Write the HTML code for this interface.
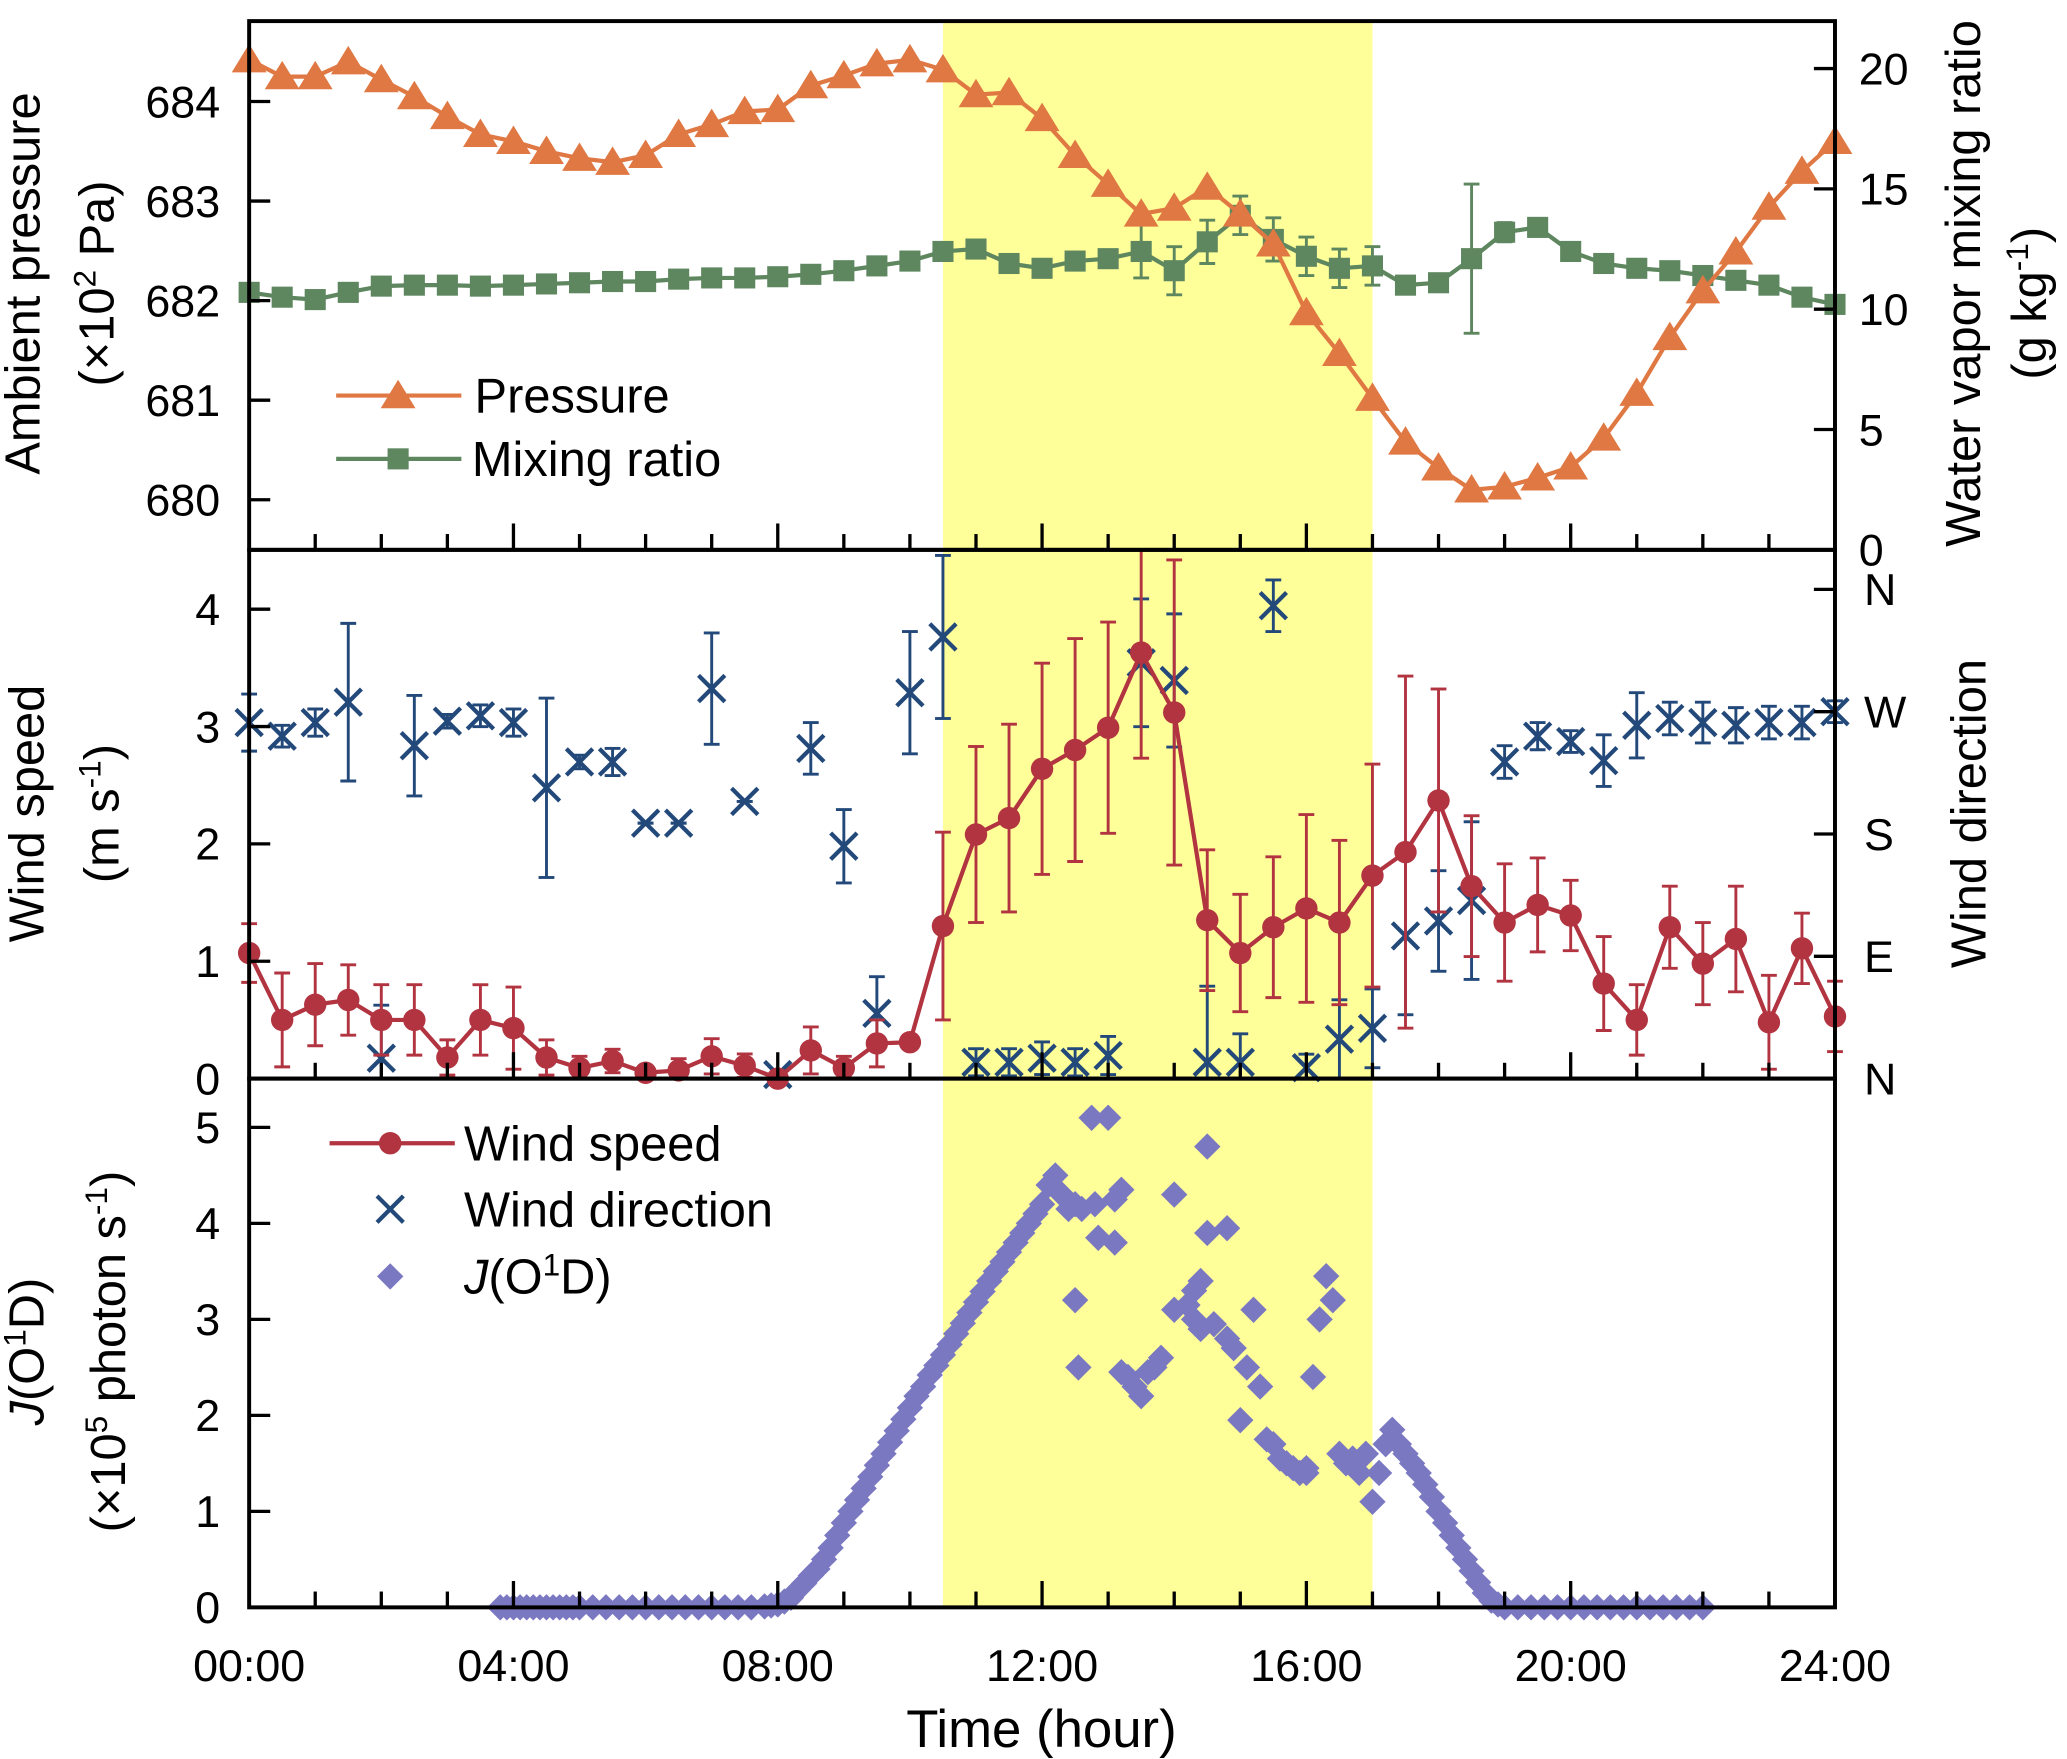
<!DOCTYPE html>
<html><head><meta charset="utf-8"><style>
html,body{margin:0;padding:0;background:#fff;}
svg{display:block;font-family:"Liberation Sans",Arial,sans-serif;}
</style></head><body>
<svg id="chart" xmlns="http://www.w3.org/2000/svg" width="2067" height="1759" viewBox="0 0 1568 1334" preserveAspectRatio="none">
<g id="band"></g>
<g id="series"></g>
<g id="axes"></g>
<g id="labels">
<text transform="translate(30,215) rotate(-90)" text-anchor="middle" font-size="37">Ambient pressure</text>
<text transform="translate(86,215) rotate(-90)" text-anchor="middle" font-size="37">(×10<tspan baseline-shift="super" font-size="24">2</tspan> Pa)</text>
<text transform="translate(1502,215) rotate(-90)" text-anchor="middle" font-size="37">Water vapor mixing ratio</text>
<text transform="translate(1552,230) rotate(-90)" text-anchor="middle" font-size="37">(g kg<tspan baseline-shift="super" font-size="24">-1</tspan>)</text>
<text transform="translate(33,617) rotate(-90)" text-anchor="middle" font-size="37">Wind speed</text>
<text transform="translate(90,617) rotate(-90)" text-anchor="middle" font-size="37">(m s<tspan baseline-shift="super" font-size="24">-1</tspan>)</text>
<text transform="translate(1506,617) rotate(-90)" text-anchor="middle" font-size="37">Wind direction</text>
<text transform="translate(33,1025) rotate(-90)" text-anchor="middle" font-size="37"><tspan font-style="italic">J</tspan>(O<tspan baseline-shift="super" font-size="24">1</tspan>D)</text>
<text transform="translate(95,1025) rotate(-90)" text-anchor="middle" font-size="37">(×10<tspan baseline-shift="super" font-size="24">5</tspan> photon s<tspan baseline-shift="super" font-size="24">-1</tspan>)</text>
<text x="790" y="1325" text-anchor="middle" font-size="40">Time (hour)</text>
</g>
<g id="legend"></g>
</svg>
<script>
const hours = [0,0.5,1,1.5,2,2.5,3,3.5,4,4.5,5,5.5,6,6.5,7,7.5,8,8.5,9,9.5,10,10.5,11,11.5,12,12.5,13,13.5,14,14.5,15,15.5,16,16.5,17,17.5,18,18.5,19,19.5,20,20.5,21,21.5,22,22.5,23,23.5,24];
const pressure = [684.42,684.25,684.25,684.4,684.22,684.05,683.85,683.67,683.6,683.5,683.43,683.39,683.46,683.67,683.77,683.9,683.92,684.16,684.26,684.38,684.42,684.32,684.07,684.09,683.83,683.46,683.17,682.87,682.93,683.14,682.87,682.57,681.88,681.47,681.02,680.58,680.32,680.1,680.13,680.22,680.33,680.62,681.07,681.63,682.1,682.49,682.94,683.3,683.6];
const mixing = [10.7,10.5,10.4,10.7,10.96,11.0,11.0,10.96,11.0,11.05,11.1,11.15,11.15,11.25,11.3,11.3,11.35,11.45,11.6,11.8,12.0,12.4,12.5,11.9,11.7,12.0,12.1,12.4,11.6,12.8,13.9,12.9,12.2,11.7,11.8,11.0,11.1,12.1,13.2,13.4,12.4,11.9,11.7,11.6,11.4,11.2,11.0,10.5,10.2];
const mixingErr = [0.3,0.3,0.3,0.3,0.3,0.3,0.3,0.3,0.3,0.3,0.3,0.3,0.3,0.3,0.3,0.3,0.3,0.3,0.3,0.3,0.3,0.3,0.3,0.3,0.3,0.3,0.3,1.1,1.0,0.9,0.8,0.9,0.8,0.8,0.8,0.3,0.3,3.1,0.4,0.3,0.3,0.3,0.3,0.3,0.3,0.3,0.3,0.3,0.3];
const windSpeed = [1.07,0.5,0.63,0.67,0.5,0.5,0.18,0.5,0.43,0.18,0.09,0.15,0.05,0.07,0.19,0.11,0,0.24,0.09,0.3,0.31,1.3,2.08,2.22,2.64,2.8,2.99,3.63,3.12,1.35,1.07,1.29,1.45,1.33,1.73,1.93,2.37,1.64,1.33,1.48,1.39,0.81,0.5,1.29,0.98,1.19,0.48,1.11,0.53];
const windSpeedErr = [0.25,0.4,0.35,0.3,0.3,0.3,0.15,0.3,0.35,0.15,0.1,0.1,0.05,0.1,0.15,0.1,0.05,0.2,0.1,0.2,0.05,0.8,0.75,0.8,0.9,0.95,0.9,0.9,1.3,0.6,0.5,0.6,0.8,0.7,0.95,1.5,0.95,0.6,0.5,0.4,0.3,0.4,0.3,0.35,0.35,0.45,0.4,0.3,0.3];
const windDir = [262,252,262,277,15,245,263,267,262,214,233,233,188,188,287,204,3,243,171,48,284,325,12,12,15,12,17,306,293,12,12,348,8,29,37,105,116,131,233,252,248,234,260,265,262,260,262,262,270];
const windDirErr = [21,8,10,58,39,37,5,8,10,66,5,10,0,0,41,0,0,19,27,27,45,60,10,10,12,10,14,47,49,56,21,19,10,29,29,58,37,58,12,10,8,19,24,12,15,13,12,12,8];
const jTime = [3.8,3.9,4.0,4.1,4.2,4.3,4.4,4.5,4.6,4.7,4.8,4.9,5.0,5.2,5.4,5.6,5.8,6.0,6.2,6.4,6.6,6.8,7.0,7.2,7.4,7.6,7.8,7.9,8.0,8.1,8.2,8.3,8.4,8.5,8.6,8.7,8.8,8.9,9.0,9.1,9.2,9.3,9.4,9.5,9.6,9.7,9.8,9.9,10.0,10.1,10.2,10.3,10.4,10.5,10.6,10.7,10.8,10.9,11.0,11.1,11.2,11.3,11.4,11.5,11.6,11.7,11.8,11.9,12.0,12.1,12.2,12.3,12.4,12.5,12.6,12.75,12.8,13.0,13.1,13.2,12.85,13.1,12.5,12.55,13.2,13.3,13.4,13.5,13.6,13.7,13.8,14.0,14.0,14.2,14.3,14.4,14.5,14.5,14.8,14.3,14.4,14.6,14.8,14.9,15.1,15.2,15.3,15.0,15.4,15.5,15.6,15.7,15.8,15.9,16.0,16.0,16.1,16.2,16.3,16.4,16.5,16.6,16.7,16.8,16.9,17.0,17.1,17.2,17.3,17.4,17.5,17.6,17.7,17.8,17.9,18.0,18.1,18.2,18.3,18.4,18.5,18.6,18.7,18.8,18.9,19.0,19.2,19.4,19.6,19.8,20.0,20.2,20.4,20.6,20.8,21.0,21.2,21.4,21.6,21.8,22.0];
const jVal = [0,0,0,0,0,0,0,0,0,0,0,0,0,0,0,0,0,0,0,0,0,0,0,0,0,0,0.01,0.02,0.03,0.06,0.1,0.18,0.25,0.33,0.4,0.5,0.62,0.75,0.88,1.0,1.12,1.24,1.36,1.48,1.6,1.72,1.84,1.96,2.08,2.2,2.3,2.42,2.52,2.63,2.74,2.85,2.96,3.07,3.18,3.29,3.4,3.5,3.6,3.7,3.8,3.9,4.0,4.1,4.2,4.4,4.5,4.3,4.15,4.2,4.15,5.1,4.2,5.1,4.25,4.35,3.85,3.8,3.2,2.5,2.45,2.4,2.3,2.2,2.45,2.5,2.6,3.1,4.3,3.15,3.3,3.4,4.8,3.9,3.95,3.0,2.9,2.95,2.8,2.7,2.5,3.1,2.3,1.95,1.75,1.7,1.55,1.5,1.45,1.4,1.4,1.45,2.4,3.0,3.45,3.2,1.6,1.5,1.55,1.4,1.6,1.1,1.4,1.7,1.85,1.7,1.6,1.5,1.4,1.28,1.15,1.0,0.88,0.75,0.62,0.5,0.38,0.26,0.15,0.07,0.03,0,0,0,0,0,0,0,0,0,0,0,0,0,0,0,0];
const pressureTicks = [680,681,682,683,684];
const mixingTicks = [0,5,10,15,20];
const speedTicks = [0,1,2,3,4];
const dirTicks = [0,90,180,270,360];
const dirTickLabels = ['N','E','S','W','N'];
const jTicks = [0,1,2,3,4,5];
const timeTicks = [0,4,8,12,16,20,24];
const timeTickLabels = ['00:00','04:00','08:00','12:00','16:00','20:00','24:00'];
const band = [10.5,17];

const NS='http://www.w3.org/2000/svg';
const L=189,R=1392;
const P1=[16,417],P2=[417,818],P3=[818,1219];
const xS=h=>L+(R-L)*h/24;
const yPres=v=>77+(684-v)*75.5;
const yMix=v=>417-v*18.25;
const ySpd=v=>818-v*89;
const yDir=v=>818-v*371/360;
const yJ=v=>1219-v*72.8;
function mk(tag,at,parent){const e=document.createElementNS(NS,tag);for(const k in at)e.setAttribute(k,at[k]);parent.appendChild(e);return e;}
const gB=document.getElementById('band'),gS=document.getElementById('series'),gA=document.getElementById('axes'),gL=document.getElementById('legend');
const clamp=(v,a,b)=>Math.max(a,Math.min(b,v));

let bd=mk('rect',{x:xS(band[0]),y:16,width:xS(band[1])-xS(band[0]),height:1203,fill:'#ffff99'},gB);



function tri(x,y,c,p){const s=12;const e=mk('polygon',{points:`${x},${y-s} ${x-s*1.1},${y+s*0.8} ${x+s*1.1},${y+s*0.8}`,fill:c},p);return e;}
function sq(x,y,c,p){return mk('rect',{x:x-8,y:y-8,width:16,height:16,fill:c},p);}
function circ(x,y,c,p){return mk('circle',{cx:x,cy:y,r:8.5,fill:c},p);}
function cross(x,y,c,p){const s=10;const g=mk('g',{stroke:c,'stroke-width':3.2},p);mk('line',{x1:x-s,y1:y-s,x2:x+s,y2:y+s},g);mk('line',{x1:x-s,y1:y+s,x2:x+s,y2:y-s},g);return g;}
function dia(x,y,c,p){const s=10;return mk('polygon',{points:`${x},${y-s} ${x+s},${y} ${x},${y+s} ${x-s},${y}`,fill:c},p);}
function errbar(x,y1,y2,c,p,lo,hi){y1=clamp(y1,lo,hi);y2=clamp(y2,lo,hi);const g=mk('g',{stroke:c,'stroke-width':2.2},p);mk('line',{x1:x,y1:y1,x2:x,y2:y2},g);if(y1>lo&&y1<hi)mk('line',{x1:x-6,y1:y1,x2:x+6,y2:y1},g);if(y2>lo&&y2<hi)mk('line',{x1:x-6,y1:y2,x2:x+6,y2:y2},g);return g;}
function polyline(xs,ys,c,p){return mk('polyline',{points:xs.map((x,i)=>x+','+ys[i]).join(' '),fill:'none',stroke:c,'stroke-width':3.2},p);}

// mixing ratio
const cM='#5e8760',cP='#e07843',cW='#b13440',cD='#23497a',cJ='#7b78c2';
let gm=mk('g',{},gS);
hours.forEach((h,i)=>{let e=errbar(xS(h),yMix(mixing[i]-mixingErr[i]),yMix(mixing[i]+mixingErr[i]),cM,gm,P1[0],P1[1]);});
polyline(hours.map(xS),mixing.map(yMix),cM,gm);
hours.forEach((h,i)=>{let e=sq(xS(h),yMix(mixing[i]),cM,gm);});
// pressure
let gp=mk('g',{},gS);
polyline(hours.map(xS),pressure.map(yPres),cP,gp);
hours.forEach((h,i)=>{let e=tri(xS(h),yPres(pressure[i]),cP,gp);});
// wind speed
let gw=mk('g',{},gS);
hours.forEach((h,i)=>{let e=errbar(xS(h),ySpd(windSpeed[i]-windSpeedErr[i]),ySpd(windSpeed[i]+windSpeedErr[i]),cW,gw,P2[0],P2[1]);});
// wind direction
let gd=mk('g',{},gS);
hours.forEach((h,i)=>{let e=errbar(xS(h),yDir(windDir[i]-windDirErr[i]),yDir(windDir[i]+windDirErr[i]),cD,gd,P2[0],P2[1]);});
hours.forEach((h,i)=>{let e=cross(xS(h),yDir(windDir[i]),cD,gd);});
polyline(hours.map(xS),windSpeed.map(ySpd),cW,gw);
hours.forEach((h,i)=>{let e=circ(xS(h),ySpd(windSpeed[i]),cW,gw);});
gS.appendChild(gw);
// J
let gj=mk('g',{},gS);
jTime.forEach((t,i)=>{let e=dia(xS(t),yJ(jVal[i]),cJ,gj);});

// axes
[P1,P2,P3].forEach((p,k)=>{let r=mk('rect',{x:L,y:p[0],width:R-L,height:p[1]-p[0],fill:'none',stroke:'#000','stroke-width':3},gA);
 for(let h=1;h<24;h++){const len=(h%4===0)?20:12;mk('line',{x1:xS(h),y1:p[1],x2:xS(h),y2:p[1]-len,stroke:'#000','stroke-width':2.5},gA);}});
function lt(txt,x,y,anchor,fs,name){let t=mk('text',{x:x,y:y,'text-anchor':anchor,'font-size':fs},gA);t.textContent=txt;return t;}
pressureTicks.forEach(v=>{const y=yPres(v);mk('line',{x1:L,y1:y,x2:L+16,y2:y,stroke:'#000','stroke-width':2.5},gA);lt(String(v),167,y+12,'end',34,'pressure-tick-label');});
mixingTicks.forEach(v=>{const y=yMix(v);mk('line',{x1:R,y1:y,x2:R-16,y2:y,stroke:'#000','stroke-width':2.5},gA);lt(String(v),1410,y+12,'start',34,'mixing-tick-label');});
speedTicks.forEach(v=>{const y=ySpd(v);mk('line',{x1:L,y1:y,x2:L+16,y2:y,stroke:'#000','stroke-width':2.5},gA);lt(String(v),167,y+12,'end',34,'wind-speed-tick-label');});
dirTicks.forEach((v,i)=>{const y=yDir(v);mk('line',{x1:R,y1:y,x2:R-16,y2:y,stroke:'#000','stroke-width':2.5},gA);lt(dirTickLabels[i],1414,y+12,'start',34,'wind-direction-tick-label');});
jTicks.forEach(v=>{const y=yJ(v);mk('line',{x1:L,y1:y,x2:L+16,y2:y,stroke:'#000','stroke-width':2.5},gA);lt(String(v),167,y+12,'end',34,'j-tick-label');});
timeTicks.forEach((h,i)=>{lt(timeTickLabels[i],xS(h),1275,'middle',34,'time-tick-label');});

// legends
function legText(x,y,html,name){let t=mk('text',{x:x,y:y,'font-size':37},gL);t.innerHTML=html;}
mk('line',{x1:255,y1:300,x2:350,y2:300,stroke:cP,'stroke-width':3.2},gL);tri(302,300,cP,gL);legText(360,313,'Pressure','legend-pressure');
mk('line',{x1:255,y1:348,x2:350,y2:348,stroke:cM,'stroke-width':3.2},gL);sq(302,348,cM,gL);legText(358,361,'Mixing ratio','legend-mixing-ratio');
mk('line',{x1:250,y1:867,x2:345,y2:867,stroke:cW,'stroke-width':3.2},gL);circ(296,867,cW,gL);legText(352,880,'Wind speed','legend-wind-speed');
cross(296,917,cD,gL);legText(352,930,'Wind direction','legend-wind-direction');
dia(296,968,cJ,gL);legText(352,981,'<tspan font-style="italic">J</tspan>(O<tspan baseline-shift="super" font-size="24">1</tspan>D)','legend-j-o1d');
</script>
</body></html>
